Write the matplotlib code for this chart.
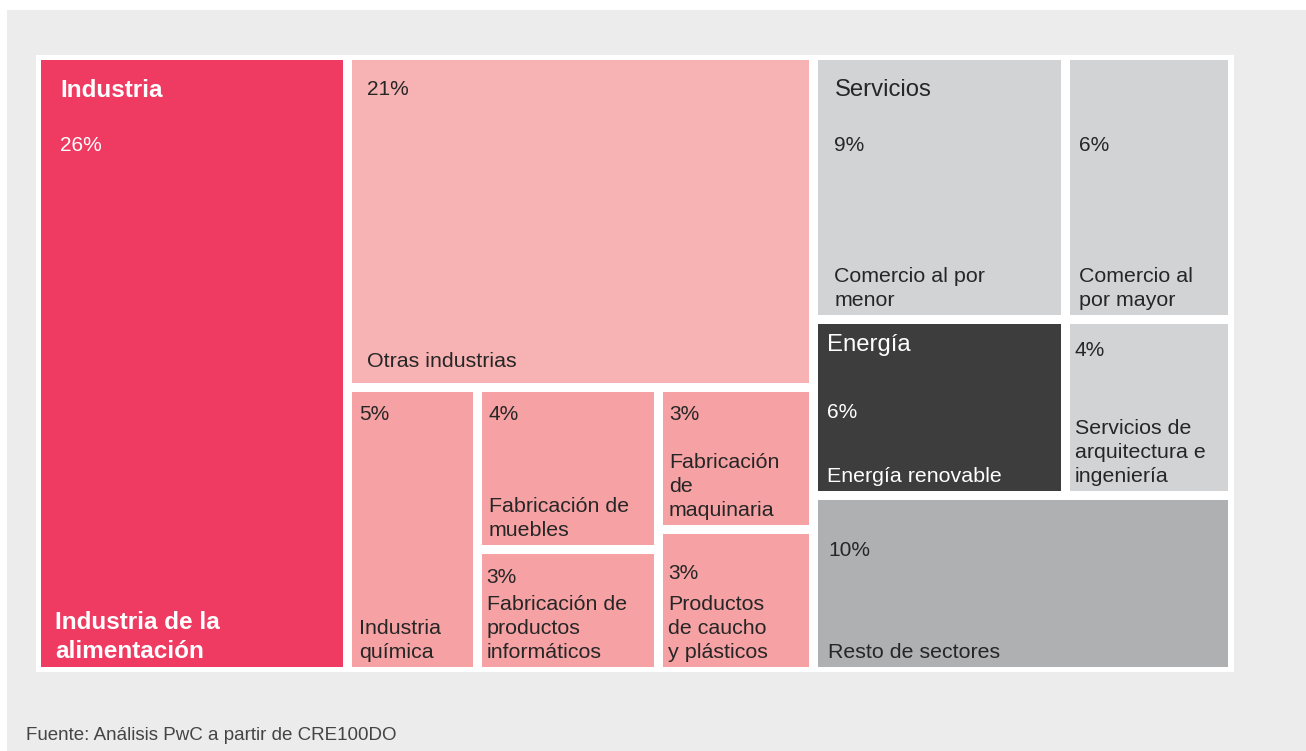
import matplotlib.pyplot as plt
from matplotlib.patches import Rectangle

plt.rcParams['font.family'] = ['Liberation Sans', 'DejaVu Sans']

# datos (% del total)
sectores = ['Industria de la\nalimentación', 'Otras industrias', 'Industria\nquímica',
            'Fabricación de\nmuebles', 'Fabricación de\nproductos\ninformáticos',
            'Fabricación\nde\nmaquinaria', 'Productos\nde caucho\ny plásticos',
            'Comercio al por\nmenor', 'Comercio al\npor mayor', 'Energía renovable',
            'Servicios de\narquitectura e\ningeniería', 'Resto de sectores']
porcentajes = [26, 21, 5, 4, 3, 3, 3, 9, 6, 6, 4, 10]
grupos = ['Industria', 'Industria', 'Industria', 'Industria', 'Industria', 'Industria',
          'Industria', 'Servicios', 'Servicios', 'Energía', 'Servicios', 'Resto']
titulos = {0: 'Industria', 7: 'Servicios', 9: 'Energía'}
fuente = 'Fuente: Análisis PwC a partir de CRE100DO'

# estructura del treemap: 'h' reparte en horizontal, 'v' en vertical
arbol = ('h', [
    ('h', [0, ('v', [1, ('h', [2, ('v', [3, 4]), ('v', [5, 6])])])]),
    ('v', [('h', [7, 8]), ('h', [9, 10]), 11]),
])

# estilos
colores = ['#ef3a62', '#f7b3b3', '#f6a1a3', '#f6a1a3', '#f6a1a3', '#f6a1a3', '#f6a1a3',
           '#d2d3d5', '#d2d3d5', '#3d3d3d', '#d2d3d5', '#afb0b2']
texto_blanco = {0, 9}
pct_offset = {0: 91, 1: 35, 2: 28, 3: 28, 4: 29, 5: 28, 6: 45, 7: 91, 8: 91,
              9: 94, 10: 32, 11: 56}
pad_x = {0: 19, 1: 15, 2: 7, 3: 7, 4: 5, 5: 6, 6: 5, 7: 16, 8: 9, 9: 9, 10: 5, 11: 10}


def total(nodo):
    if isinstance(nodo, int):
        return porcentajes[nodo]
    return sum(total(n) for n in nodo[1])


def repartir(nodo, x, y, w, h, out):
    if isinstance(nodo, int):
        out[nodo] = (x, y, w, h)
        return
    d, hijos = nodo
    t = total(nodo)
    pos = 0
    for n in hijos:
        f = total(n) / t
        if d == 'h':
            repartir(n, x + pos * w, y, w * f, h, out)
        else:
            repartir(n, x, y + pos * h, w, h * f, out)
        pos += f


fig = plt.figure(figsize=(13.06, 7.51), dpi=100)
ax = fig.add_axes([0, 0, 1, 1])
ax.set_xlim(0, 1306)
ax.set_ylim(751, 0)
ax.axis('off')

ax.add_patch(Rectangle((7, 10), 1299, 741, color='#ececec', lw=0))
ax.add_patch(Rectangle((36, 55), 1198, 617, color='white', lw=0))

celdas = {}
repartir(arbol, 36.5, 55.5, 1196, 616, celdas)
gap = 4.5

for i, (x, y, w, h) in celdas.items():
    x, y, w, h = x + gap, y + gap, w - 2 * gap, h - 2 * gap
    ax.add_patch(Rectangle((x, y), w, h, color=colores[i], lw=0))
    tc = 'white' if i in texto_blanco else '#262626'
    tx = x + pad_x[i]
    if i in titulos:
        bold = grupos[i] == 'Industria'
        ax.text(tx, y + 37 if bold else y + 36 - (9 if i == 9 else 0), titulos[i],
                color=tc, fontsize=17.5 if bold else 17.2,
                fontweight='bold' if bold else 'normal', va='baseline')
    ax.text(tx, y + pct_offset[i], f'{porcentajes[i]}%', color=tc, fontsize=15,
            va='baseline')
    lineas = sectores[i].split('\n')
    bold = i == 0
    salto = 29 if bold else 24
    base = y + h - (9 if i != 1 else 16)
    for k, linea in enumerate(lineas):
        ax.text(x + (14 if bold else pad_x[i]), base - (len(lineas) - 1 - k) * salto, linea,
                color=tc, fontsize=17.5 if bold else 15.4,
                fontweight='bold' if bold else 'normal', va='baseline')

ax.text(26, 740, fuente, color='#444444', fontsize=13.5, va='baseline')

fig.savefig('out.png', dpi=100)
